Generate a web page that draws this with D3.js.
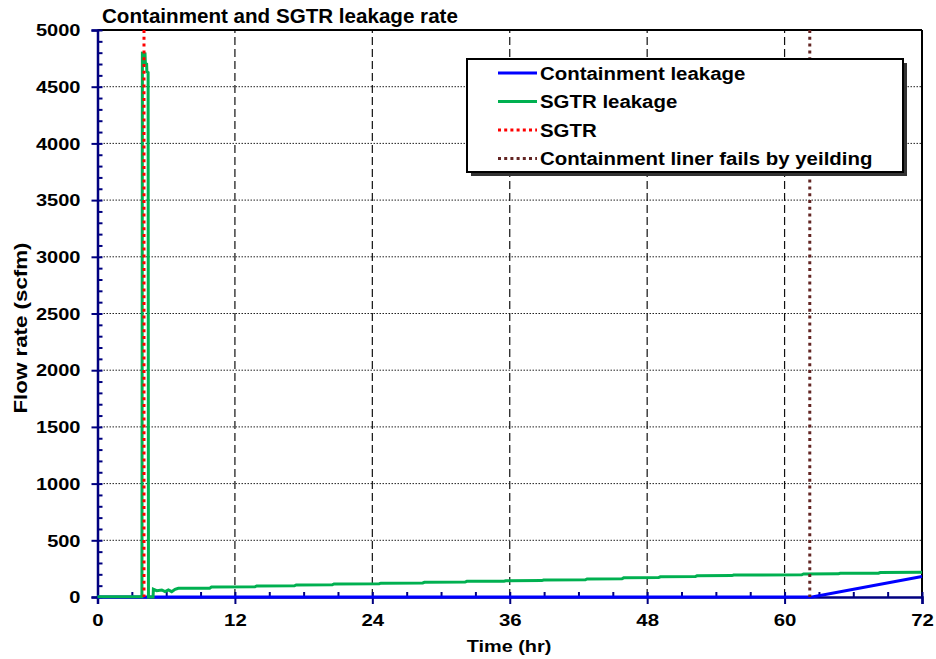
<!DOCTYPE html>
<html>
<head>
<meta charset="utf-8">
<script src="https://cdn.jsdelivr.net/npm/d3@7"></script>
<style>
  body { margin: 0; background: #fff; }
  text { font-family: "Liberation Sans", Arial, sans-serif; font-weight: bold; fill: #000; }
</style>
</head>
<body>
<svg id="chart" width="936" height="659"></svg>
<script>
// Containment leakage (scfm) vs time (hr)
const containmentTime = [0, 62.4, 72];
const containmentFlow = [0, 0, 180];

// SGTR leakage (scfm) vs time (hr)
const sgtrTime = [0, 3.88, 3.92, 4.15, 4.18, 4.29, 4.31, 4.42, 4.45, 4.85, 4.88, 5.17, 5.61, 5.9, 6.19,
  6.48, 6.77, 7.06, 9.8, 9.95, 13.75, 13.9, 17.2, 17.35, 20.5, 20.65, 24.6, 24.75, 28.4, 28.55,
  32.1, 32.25, 35.5, 35.65, 38.8, 38.95, 42.6, 42.75, 45.8, 45.95, 49.0, 49.15, 52.2, 52.35,
  55.4, 55.55, 61.5, 61.65, 64.7, 64.85, 68.2, 68.35, 72];
const sgtrFlow = [3, 3, 4795, 4790, 4707, 4700, 4633, 4625, 0, 0, 68, 56, 62, 47, 62,
  47, 68, 77, 78, 88, 90, 97, 99, 106, 108, 115, 117, 122, 124, 130,
  132, 138, 139, 143, 145, 150, 152, 159, 161, 169, 171, 178, 180, 187,
  189, 194, 196, 203, 204, 209, 210, 216, 218];

// Event markers (hr)
const sgtrEventTime = 4.06;
const linerFailTime = 62.2;

const xTicks = [0, 12, 24, 36, 48, 60, 72];
const xMinorTicks = [3, 6, 9, 15, 18, 21, 27, 30, 33, 39, 42, 45, 51, 54, 57, 63, 66, 69];
const yTicks = [0, 500, 1000, 1500, 2000, 2500, 3000, 3500, 4000, 4500, 5000];
const yMinorStep = 100;

const legendLabels = ["Containment leakage", "SGTR leakage", "SGTR", "Containment liner fails by yeilding"];
const colors = { containment: "#0000ff", sgtr: "#00b050", event: "#ff0000", liner: "#632523", axis: "#000080" };

const svg = d3.select("#chart");
const x = d3.scaleLinear().domain([0, 72]).range([97.5, 922]);
const y = d3.scaleLinear().domain([0, 5000]).range([597, 30]);

// Grid
const grid = svg.append("g");
grid.selectAll("line.h").data(yTicks.filter(v => v > 0 && v < 5000)).join("line")
  .attr("x1", x(0)).attr("x2", x(72))
  .attr("y1", d => y(d)).attr("y2", d => y(d))
  .attr("stroke", "#222").attr("stroke-width", 1).attr("stroke-dasharray", "1.5,1.5");
grid.selectAll("line.v").data(xTicks.filter(v => v > 0 && v < 72)).join("line")
  .attr("x1", d => x(d)).attr("x2", d => x(d))
  .attr("y1", y(0)).attr("y2", y(5000))
  .attr("stroke", "#111").attr("stroke-width", 1.2).attr("stroke-dasharray", "8,4");

// Frame top/right
svg.append("line").attr("x1", x(0)).attr("x2", x(72)).attr("y1", y(5000)).attr("y2", y(5000))
  .attr("stroke", "#000").attr("stroke-width", 2);
svg.append("line").attr("x1", x(72)).attr("x2", x(72)).attr("y1", y(5000)).attr("y2", y(0))
  .attr("stroke", "#000").attr("stroke-width", 2);

// Y axis
const yMinor = d3.range(0, 5001, yMinorStep);
const yAxisMajor = svg.append("g").attr("transform", `translate(${x(0)},0)`)
  .call(d3.axisLeft(y).tickValues(yTicks).tickSize(6).tickPadding(11).tickFormat(d3.format("d")));
svg.append("g").attr("transform", `translate(${x(0)},0)`)
  .call(d3.axisRight(y).tickValues(yMinor).tickSize(5).tickFormat(""))
  .call(g => g.select(".domain").remove());
yAxisMajor.select(".domain").attr("stroke", colors.axis).attr("stroke-width", 2.5);
svg.selectAll(".tick line").attr("stroke", colors.axis).attr("stroke-width", 2);
yAxisMajor.selectAll("text")
  .attr("x", null).attr("dy", "0.36em")
  .attr("transform", "translate(-17,0) scale(1.25,1)")
  .style("font-size", "16px").style("font-family", "'Liberation Sans', Arial, sans-serif")
  .style("font-weight", "bold").attr("fill", "#000");

// X axis
const xAxisMajor = svg.append("g").attr("transform", `translate(0,${y(0)})`)
  .call(d3.axisBottom(x).tickValues(xTicks).tickSize(7).tickFormat(d3.format("d")));
svg.append("g").attr("transform", `translate(0,${y(0)})`)
  .call(d3.axisTop(x).tickValues(xMinorTicks.concat(xTicks)).tickSize(5).tickFormat(""))
  .call(g => g.select(".domain").remove());
xAxisMajor.select(".domain").attr("stroke", colors.axis).attr("stroke-width", 2.5);
svg.selectAll(".tick line").attr("stroke", colors.axis).attr("stroke-width", 2);
xAxisMajor.selectAll("text")
  .attr("y", null).attr("dy", null)
  .attr("transform", "translate(0,29) scale(1.2,1)")
  .style("font-size", "17px").style("font-family", "'Liberation Sans', Arial, sans-serif")
  .style("font-weight", "bold").attr("fill", "#000");

// Series
const line = d3.line().x(d => x(d[0])).y(d => y(d[1]));
svg.append("path")
  .datum(containmentTime.map((t, i) => [t, containmentFlow[i]]))
  .attr("d", line).attr("fill", "none").attr("stroke", colors.containment).attr("stroke-width", 3);
svg.append("path")
  .datum(sgtrTime.map((t, i) => [t, sgtrFlow[i]]))
  .attr("d", line).attr("fill", "none").attr("stroke", colors.sgtr).attr("stroke-width", 3)
  .attr("stroke-linejoin", "miter");

// Event markers
svg.append("line").attr("x1", x(sgtrEventTime)).attr("x2", x(sgtrEventTime))
  .attr("y1", y(5000)).attr("y2", y(0))
  .attr("stroke", colors.event).attr("stroke-width", 3).attr("stroke-dasharray", "3,3.8");
svg.append("line").attr("x1", x(linerFailTime)).attr("x2", x(linerFailTime))
  .attr("y1", y(5000)).attr("y2", y(0))
  .attr("stroke", colors.liner).attr("stroke-width", 3).attr("stroke-dasharray", "3,3.8");

// Titles
svg.append("text").attr("x", 102).attr("y", 23).style("font-size", "20px")
  .attr("transform", "translate(102,0) scale(1.03,1) translate(-102,0)")
  .text("Containment and SGTR leakage rate");
svg.append("text").attr("text-anchor", "middle")
  .attr("transform", "translate(509,652) scale(1.17,1)")
  .style("font-size", "17px").text("Time (hr)");
svg.append("text").attr("text-anchor", "middle")
  .attr("transform", "translate(27,328) rotate(-90) scale(1.24,1)")
  .style("font-size", "18px").text("Flow rate (scfm)");

// Legend
const legend = svg.append("g");
legend.append("rect").attr("x", 471).attr("y", 63).attr("width", 436).attr("height", 113).attr("fill", "#333");
legend.append("rect").attr("x", 467).attr("y", 59).attr("width", 436).attr("height", 113)
  .attr("fill", "#fff").attr("stroke", "#000").attr("stroke-width", 2);
const legendStyles = [
  { color: colors.containment, dash: null },
  { color: colors.sgtr, dash: null },
  { color: colors.event, dash: "3,3.2" },
  { color: colors.liner, dash: "3,3.2" }
];
const rows = legend.selectAll("g.row").data(legendLabels).join("g")
  .attr("transform", (d, i) => `translate(0,${73 + i * 28.5})`);
rows.append("line").attr("x1", 498).attr("x2", 537).attr("y1", 0).attr("y2", 0)
  .attr("stroke", (d, i) => legendStyles[i].color).attr("stroke-width", 3)
  .attr("stroke-dasharray", (d, i) => legendStyles[i].dash);
rows.append("text").attr("x", 540).attr("dy", "0.36em").style("font-size", "19px")
  .attr("transform", "translate(540,0) scale(1.075,1) translate(-540,0)")
  .text(d => d);
</script>
</body>
</html>
